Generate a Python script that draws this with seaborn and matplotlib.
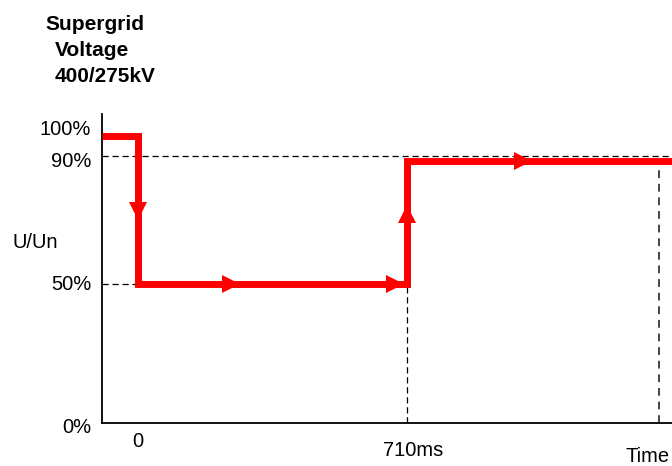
import matplotlib
matplotlib.use("Agg")
import matplotlib.pyplot as plt
import seaborn as sns
import pandas as pd

# Schematic voltage profile (time in ms, drawn level in % of axis scale)
time_ms = [-95, 0, 0, 710, 710, 1410]
level = [103, 103, 50, 50, 94, 94]
df = pd.DataFrame({"time": time_ms, "level": level})

# direction arrows along the trace
arrow_x = [0, 245, 678, 710, 1016]
arrow_y = [76, 50, 50, 75, 94]
arrow_marker = ["v", ">", ">", "^", ">"]

# reference (dashed) guide levels
ref_90 = 96
ref_50 = 50
end_time = 1375

ytick_text = ["100%", "90%", "50%", "0%"]
ytick_pos = [105.4, 93.9, 49.6, -1.5]

sns.set_theme(style="white")
plt.rcParams["font.family"] = ["Liberation Sans", "DejaVu Sans"]
plt.rcParams["text.color"] = "black"

fig = plt.figure(figsize=(6.72, 4.66), dpi=100)
ax = fig.add_axes([102 / 672, 43 / 466, 570 / 672, 309 / 466])

sns.lineplot(data=df, x="time", y="level", sort=False, estimator=None,
             color="#ff0000", linewidth=5.0, ax=ax, zorder=3,
             solid_joinstyle="miter", solid_capstyle="butt")

for xv, yv, m in zip(arrow_x, arrow_y, arrow_marker):
    ax.plot([xv], [yv], marker=m, markersize=12.5, color="#ff0000",
            markeredgewidth=0, zorder=4, clip_on=False)

dash = dict(color="black", linewidth=0.9, linestyle=(0, (5, 3)), zorder=2)
ax.plot([-95, 1410], [ref_90, ref_90], **dash)
ax.plot([-95, 0], [ref_50, ref_50], **dash)
ax.plot([710, 710], [0, ref_50], **dash)
ax.plot([end_time, end_time], [0, 92], color="#444444", linewidth=1.4,
        linestyle=(0, (4, 3)), zorder=2)

ax.set_xlim(-95, 1409)
ax.set_ylim(0, 111)
ax.set_xticks([])
ax.set_yticks([])
ax.set_xlabel("")
ax.set_ylabel("")
for s in ["top", "right"]:
    ax.spines[s].set_visible(False)
for s in ["left", "bottom"]:
    ax.spines[s].set_color("black")
    ax.spines[s].set_linewidth(1.3)

fs = 14.5
ytr = ax.get_yaxis_transform()
for t, p in zip(ytick_text, ytick_pos):
    ax.text(-0.019, p, t, transform=ytr, ha="right", va="center",
            fontsize=fs, color="black", clip_on=False)

xtr = ax.get_xaxis_transform()
ax.text(0, -0.06, "0", transform=xtr, ha="center", va="center", fontsize=fs, color="black")
ax.text(725, -0.09, "710ms", transform=xtr, ha="center", va="center", fontsize=fs, color="black")
ax.text(1345, -0.11, "Time", transform=xtr, ha="center", va="center", fontsize=fs, color="black")

fig.text(12 / 672, 1 - 243 / 466, "U/Un", ha="left", va="center", fontsize=fs, color="black")

tfs = 15
for tx, xp, yp in [("Supergrid", 45, 24), ("Voltage", 55, 50), ("400/275kV", 55, 76)]:
    fig.text(xp / 672, 1 - yp / 466, tx, ha="left", va="center",
             fontsize=tfs, fontweight="bold", color="black")

fig.savefig("out.png", dpi=100, facecolor="white")
